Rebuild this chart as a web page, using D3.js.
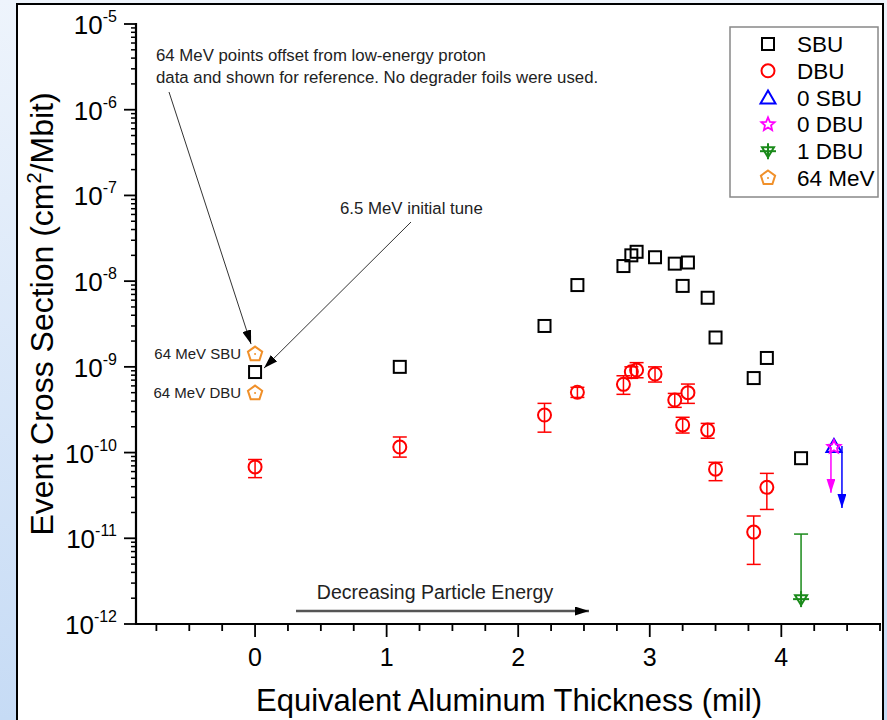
<!DOCTYPE html>
<html>
<head>
<meta charset="utf-8">
<script src="https://cdn.jsdelivr.net/npm/d3@7"></script>
<style>
  html, body { margin: 0; padding: 0; }
  body { width: 887px; height: 720px; overflow: hidden;
         background: linear-gradient(to bottom, #eef4fc, #c6dbf5); }
  text { font-family: "Liberation Sans", Arial, sans-serif; }
</style>
</head>
<body>
<div id="chart"></div>
<script>
// SBU (black squares)
var sbuX = [0, 1.1, 2.2, 2.45, 2.8, 2.86, 2.9, 3.04, 3.19, 3.29, 3.25, 3.44, 3.5, 3.79, 3.89, 4.15];
var sbuY = [8.7e-10, 1.0e-9, 3.0e-9, 9.0e-9, 1.5e-8, 2.0e-8, 2.2e-8, 1.9e-8, 1.6e-8, 1.65e-8, 8.8e-9, 6.4e-9, 2.2e-9, 7.4e-10, 1.27e-9, 8.6e-11];

// DBU (red circles with error bars)
var dbuX  = [0, 1.1, 2.2, 2.45, 2.8, 2.86, 2.9, 3.04, 3.19, 3.29, 3.25, 3.44, 3.5, 3.79, 3.89];
var dbuY  = [6.8e-11, 1.16e-10, 2.74e-10, 5.05e-10, 6.25e-10, 8.77e-10, 9.18e-10, 8.24e-10, 4.1e-10, 5.0e-10, 2.1e-10, 1.83e-10, 6.4e-11, 1.18e-11, 3.93e-11];
var dbuHi = [8.3e-11, 1.52e-10, 3.75e-10, 5.77e-10, 7.87e-10, 1.0e-9, 1.12e-9, 1.0e-9, 4.9e-10, 6.3e-10, 2.58e-10, 2.19e-10, 7.7e-11, 1.82e-11, 5.72e-11];
var dbuLo = [5.1e-11, 8.85e-11, 1.73e-10, 4.4e-10, 4.78e-10, 7.35e-10, 7.46e-10, 6.65e-10, 3.37e-10, 3.75e-10, 1.69e-10, 1.47e-10, 4.7e-11, 4.96e-12, 2.17e-11];

// 0 SBU / 0 DBU upper limits (with arrows down to)
var zeroSbu = {x: 4.4, y: 1.19e-10, to: 2.25e-11};
var zeroDbu = {x: 4.4, y: 1.16e-10, to: 3.4e-11};
// 1 DBU
var oneDbu = {x: 4.15, y: 1.95e-12, hi: 1.12e-11};
// 64 MeV reference points
var mevX = [0, 0];
var mevY = [1.41e-9, 4.94e-10];
var mevLabels = ["64 MeV SBU", "64 MeV DBU"];

var xTicks = [0, 1, 2, 3, 4];
var yExps = [-5, -6, -7, -8, -9, -10, -11, -12];

var legendItems = ["SBU", "DBU", "0 SBU", "0 DBU", "1 DBU", "64 MeV"];

var W = 887, H = 720;
var svg = d3.select('#chart').append('svg')
    .attr('width', W).attr('height', H);

// white panel with black frame
svg.append('rect')
    .attr('x', 17).attr('y', 4).attr('width', 866).attr('height', 730)
    .attr('fill', '#fff').attr('stroke', '#000').attr('stroke-width', 2);

var x = d3.scaleLinear().domain([-0.905, 4.75]).range([136, 880]);
var y = d3.scaleLog().domain([1e-12, 1e-5]).range([624, 24]);

var red = '#ff0000', blue = '#0000ff', magenta = '#ff00ff', green = '#1a8a1a', orange = '#f0902a';

// arrowhead markers
var defs = svg.append('defs');
function marker(id, color, w, l) {
    defs.append('marker')
        .attr('id', id).attr('markerUnits', 'userSpaceOnUse')
        .attr('markerWidth', l).attr('markerHeight', w)
        .attr('refX', l).attr('refY', w / 2).attr('orient', 'auto')
        .append('path')
        .attr('d', `M0,0L${l},${w / 2}L0,${w}Z`).attr('fill', color);
}
marker('arrBlack', '#000', 9, 14);
marker('arrBlue', blue, 9, 14);
marker('arrMag', magenta, 9, 14);

// ----- axes -----
var gx = svg.append('g').attr('transform', 'translate(0,624)');
var minorX = d3.range(-0.75, 4.76, 0.25);
gx.selectAll('.xt').data(minorX).enter().append('line')
    .attr('x1', d => x(d)).attr('x2', d => x(d))
    .attr('y1', 0).attr('y2', d => Math.abs(d - Math.round(d)) < 1e-6 ? 13 : 7)
    .attr('stroke', '#000').attr('stroke-width', 1.8);
gx.append('line').attr('x1', 136).attr('x2', 881).attr('y1', 0).attr('y2', 0)
    .attr('stroke', '#000').attr('stroke-width', 2.2);
gx.selectAll('.xl').data(xTicks).enter().append('text')
    .attr('x', d => x(d)).attr('y', 42)
    .attr('text-anchor', 'middle').attr('font-size', 25)
    .text(d => d);

var gy = svg.append('g').attr('transform', 'translate(136,0)');
var minorY = [];
for (var e = -12; e < -5; e++) {
    for (var m = 2; m <= 9; m++) minorY.push(m * Math.pow(10, e));
}
gy.selectAll('.ym').data(minorY).enter().append('line')
    .attr('x1', -5).attr('x2', 0)
    .attr('y1', d => y(d)).attr('y2', d => y(d))
    .attr('stroke', '#000').attr('stroke-width', 1.5);
gy.selectAll('.yM').data(yExps).enter().append('line')
    .attr('x1', -12).attr('x2', 0)
    .attr('y1', d => y(Math.pow(10, d))).attr('y2', d => y(Math.pow(10, d)))
    .attr('stroke', '#000').attr('stroke-width', 1.8);
gy.append('line').attr('x1', 0).attr('x2', 0).attr('y1', 23).attr('y2', 625)
    .attr('stroke', '#000').attr('stroke-width', 2.2);
var yl = gy.selectAll('.yl').data(yExps).enter().append('text')
    .attr('x', -19).attr('y', d => y(Math.pow(10, d)) + 10)
    .attr('text-anchor', 'end').attr('font-size', 26);
yl.append('tspan').text('10');
yl.append('tspan').attr('dy', -12).attr('font-size', 16).text(d => d);

// axis titles
svg.append('text')
    .attr('x', 509).attr('y', 711).attr('text-anchor', 'middle')
    .attr('font-size', 31).text('Equivalent Aluminum Thickness (mil)');
var yt = svg.append('text')
    .attr('transform', 'translate(53,314) rotate(-90)')
    .attr('text-anchor', 'middle').attr('font-size', 32);
yt.append('tspan').text('Event Cross Section (cm');
yt.append('tspan').attr('dy', -12).attr('font-size', 20).text('2');
yt.append('tspan').attr('dy', 12).text('/Mbit)');

// ----- symbol helpers -----
function pentagon(r) {
    var pts = d3.range(5).map(i => {
        var a = -Math.PI / 2 + i * 2 * Math.PI / 5;
        return [r * Math.cos(a), r * Math.sin(a)];
    });
    return 'M' + pts.join('L') + 'Z';
}
function star(ro, ri) {
    var pts = d3.range(10).map(i => {
        var a = -Math.PI / 2 + i * Math.PI / 5;
        var r = i % 2 ? ri : ro;
        return [r * Math.cos(a), r * Math.sin(a)];
    });
    return 'M' + pts.join('L') + 'Z';
}
function drawSymbol(g, type, cx, cy) {
    var s = g.append('g').attr('transform', `translate(${cx},${cy})`)
        .attr('fill', 'none').attr('stroke-width', 2);
    if (type === 'SBU') {
        s.append('rect').attr('x', -6).attr('y', -6).attr('width', 12).attr('height', 12)
            .attr('stroke', '#000');
    } else if (type === 'DBU') {
        s.append('circle').attr('r', 6.5).attr('stroke', red);
    } else if (type === '0 SBU') {
        s.append('path').attr('d', 'M0,-7L7.5,6L-7.5,6Z').attr('stroke', blue);
    } else if (type === '0 DBU') {
        s.append('path').attr('d', star(7, 3.2)).attr('stroke', magenta).attr('stroke-width', 1.8);
    } else if (type === '1 DBU') {
        s.append('path').attr('d', 'M-6,-4L6,-4L0,6Z').attr('stroke', green);
        s.append('line').attr('x1', -8).attr('x2', 8).attr('y1', 0).attr('y2', 0).attr('stroke', green);
        s.append('line').attr('x1', 0).attr('x2', 0).attr('y1', -8).attr('y2', 8).attr('stroke', green);
    } else if (type === '64 MeV') {
        s.append('path').attr('d', pentagon(7.5)).attr('stroke', orange);
        s.append('circle').attr('r', 1).attr('fill', orange).attr('stroke', 'none');
    }
    return s;
}

var plot = svg.append('g');

// DBU error bars
dbuX.forEach(function(d, i) {
    var g = plot.append('g').attr('stroke', red).attr('stroke-width', 1.5);
    g.append('line').attr('x1', x(d)).attr('x2', x(d))
        .attr('y1', y(dbuHi[i])).attr('y2', y(dbuLo[i]));
    [dbuHi[i], dbuLo[i]].forEach(function(v) {
        g.append('line').attr('x1', x(d) - 7).attr('x2', x(d) + 7)
            .attr('y1', y(v)).attr('y2', y(v));
    });
});

// 1 DBU upper-limit bar
var gg = plot.append('g').attr('stroke', green).attr('stroke-width', 1.5);
gg.append('line').attr('x1', x(oneDbu.x)).attr('x2', x(oneDbu.x))
    .attr('y1', y(oneDbu.hi)).attr('y2', y(oneDbu.y));
gg.append('line').attr('x1', x(oneDbu.x) - 7).attr('x2', x(oneDbu.x) + 7)
    .attr('y1', y(oneDbu.hi)).attr('y2', y(oneDbu.hi));

// limit arrows
plot.append('line')
    .attr('x1', x(zeroSbu.x) + 8).attr('x2', x(zeroSbu.x) + 8)
    .attr('y1', y(zeroSbu.y)).attr('y2', y(zeroSbu.to))
    .attr('stroke', blue).attr('stroke-width', 1.5).attr('marker-end', 'url(#arrBlue)');
plot.append('line')
    .attr('x1', x(zeroDbu.x) - 3).attr('x2', x(zeroDbu.x) - 3)
    .attr('y1', y(zeroDbu.y)).attr('y2', y(zeroDbu.to))
    .attr('stroke', magenta).attr('stroke-width', 1.5).attr('marker-end', 'url(#arrMag)');

sbuX.forEach((d, i) => drawSymbol(plot, 'SBU', x(d), y(sbuY[i])));
dbuX.forEach((d, i) => drawSymbol(plot, 'DBU', x(d), y(dbuY[i])));
drawSymbol(plot, '0 SBU', x(zeroSbu.x), y(zeroSbu.y));
drawSymbol(plot, '0 DBU', x(zeroDbu.x), y(zeroDbu.y));
drawSymbol(plot, '1 DBU', x(oneDbu.x), y(oneDbu.y));
mevX.forEach((d, i) => drawSymbol(plot, '64 MeV', x(d), y(mevY[i])));

// 64 MeV labels
plot.selectAll('.mevl').data(mevLabels).enter().append('text')
    .attr('x', x(0) - 14).attr('y', (d, i) => y(mevY[i]) + 5)
    .attr('text-anchor', 'end').attr('font-size', 15).attr('fill', '#222')
    .text(d => d);

// ----- annotations -----
var note = svg.append('text').attr('font-size', 16.8).attr('fill', '#222');
note.append('tspan').attr('x', 156).attr('y', 61).text('64 MeV points offset from low-energy proton');
note.append('tspan').attr('x', 156).attr('y', 83).text('data and shown for reference. No degrader foils were used.');
svg.append('line').attr('x1', 169).attr('y1', 92).attr('x2', x(0) - 4).attr('y2', y(mevY[0]) - 10)
    .attr('stroke', '#333').attr('stroke-width', 1).attr('marker-end', 'url(#arrBlack)');

svg.append('text').attr('x', 340).attr('y', 214).attr('font-size', 16.8).attr('fill', '#222')
    .text('6.5 MeV initial tune');
svg.append('line').attr('x1', 411).attr('y1', 222).attr('x2', x(0) + 9).attr('y2', y(sbuY[0]) - 4)
    .attr('stroke', '#333').attr('stroke-width', 1).attr('marker-end', 'url(#arrBlack)');

svg.append('text').attr('x', 435).attr('y', 599).attr('text-anchor', 'middle')
    .attr('font-size', 19.5).attr('fill', '#222').text('Decreasing Particle Energy');
svg.append('line').attr('x1', 296).attr('x2', 589).attr('y1', 611).attr('y2', 611)
    .attr('stroke', '#555').attr('stroke-width', 2.5).attr('marker-end', 'url(#arrBlack)');

// ----- legend -----
var lg = svg.append('g');
lg.append('rect').attr('x', 730).attr('y', 27).attr('width', 148).attr('height', 170)
    .attr('fill', '#fff').attr('stroke', '#888').attr('stroke-width', 1.5);
legendItems.forEach(function(d, i) {
    var cy = 44 + i * 26.8;
    drawSymbol(lg, d, 768, cy);
    lg.append('text').attr('x', 797).attr('y', cy + 8).attr('font-size', 22.5).text(d);
});
</script>
</body>
</html>
